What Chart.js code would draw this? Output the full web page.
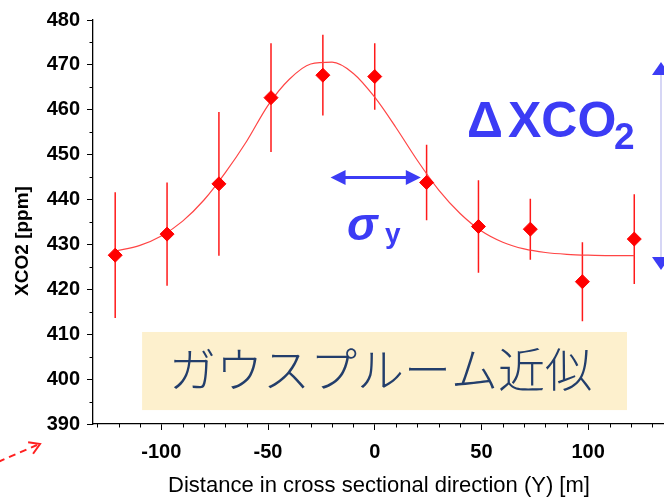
<!DOCTYPE html>
<html>
<head>
<meta charset="utf-8">
<style>
  html, body { margin: 0; padding: 0; background: #fff; overflow: hidden; width: 664px; height: 497px; }
  canvas { display: block; }
</style>
<script src="https://cdn.jsdelivr.net/npm/chart.js@4/dist/chart.umd.min.js"></script>
</head>
<body>
<canvas id="c" width="673" height="497"></canvas>
<script>
// Cross-section samples: distance from plume axis (m), XCO2 (ppm), 1-sigma spread (ppm)
const distance = [-121.6, -97.3, -73.0, -48.6, -24.3, 0.0, 24.3, 48.6, 72.9, 97.3, 121.6];
const xco2     = [427.6, 432.3, 443.5, 462.7, 467.7, 467.4, 443.8, 434.0, 433.4, 421.7, 431.2];
const spread   = [14.0, 11.5, 16.0, 12.1, 9.0, 7.4, 8.4, 10.3, 6.8, 8.8, 10.0];

// Fitted Gaussian plume profile
const fitX = [-121.6, -110, -100, -90, -80, -70, -60, -50, -40, -30, -20, -10, 0, 10, 20, 30, 40, 50, 60, 70, 80, 90, 100, 110, 121.6];
const fitY = [428.5, 429.8, 431.9, 435.2, 439.9, 446.0, 453.0, 461.0, 466.8, 470.2, 470.6, 468.1, 462.8, 456.0, 448.7, 442.1, 436.9, 433.0, 430.5, 429.0, 428.2, 427.8, 427.6, 427.5, 427.5];

// Axis ticks
const xTicks = [-100, -50, 0, 50, 100];
const yTicks = [390, 400, 410, 420, 430, 440, 450, 460, 470, 480];

const BLUE = '#3c3cf5';
const RED = '#ff0000';
const SANS = '"Liberation Sans", Arial, sans-serif';

function fillHead(ctx, tipX, tipY, dx, dy, len, half) {
  const bx = tipX - dx * len, by = tipY - dy * len;
  ctx.beginPath();
  ctx.moveTo(tipX, tipY);
  ctx.lineTo(bx - dy * half, by + dx * half);
  ctx.lineTo(bx + dy * half, by - dx * half);
  ctx.closePath();
  ctx.fill();
}

// Caption box and error bars beneath the data
const underlay = {
  id: 'underlay',
  beforeDatasetsDraw(chart) {
    const { ctx, scales: { x, y } } = chart;
    ctx.save();
    const bx0 = x.getPixelForValue(-109), bx1 = x.getPixelForValue(118.2);
    const by0 = y.getPixelForValue(410.5), by1 = y.getPixelForValue(393.1);
    ctx.fillStyle = '#fdf0cd';
    ctx.fillRect(bx0, by0, bx1 - bx0, by1 - by0);
    ctx.fillStyle = '#233e6b';
    ctx.font = '300 47px "Noto Sans CJK JP"';
    ctx.textAlign = 'center';
    ctx.textBaseline = 'middle';
    ctx.fillText('ガウスプルーム近似', x.getPixelForValue(2.7), y.getPixelForValue(402.3));

    ctx.strokeStyle = '#ff1a1a';
    ctx.lineWidth = 1.5;
    ctx.beginPath();
    distance.forEach((d, i) => {
      const px = x.getPixelForValue(d);
      ctx.moveTo(px, y.getPixelForValue(xco2[i] + spread[i]));
      ctx.lineTo(px, y.getPixelForValue(xco2[i] - spread[i]));
    });
    ctx.stroke();
    ctx.restore();
  }
};

// Minor ticks, axis title and annotations on top
const overlay = {
  id: 'overlay',
  afterDraw(chart) {
    const { ctx, scales: { x, y }, chartArea: ca } = chart;
    ctx.save();
    ctx.strokeStyle = '#000';
    ctx.lineWidth = 1;
    ctx.beginPath();
    for (let v = -130; v <= 130; v += 10) {
      if (v % 50 === 0) continue;
      const px = Math.round(x.getPixelForValue(v)) + 0.5;
      ctx.moveTo(px, ca.bottom);
      ctx.lineTo(px, ca.bottom + 3.5);
    }
    for (let v = 395; v < 480; v += 10) {
      const py = Math.round(y.getPixelForValue(v)) + 0.5;
      ctx.moveTo(ca.left - 3.5, py);
      ctx.lineTo(ca.left, py);
    }
    ctx.stroke();

    // y axis title
    ctx.save();
    ctx.translate(23, 241);
    ctx.rotate(-Math.PI / 2);
    ctx.fillStyle = '#000';
    ctx.font = 'bold 19px ' + SANS;
    ctx.textAlign = 'center';
    ctx.textBaseline = 'middle';
    ctx.fillText('XCO2 [ppm]', 0, 0);
    ctx.restore();

    // plume width arrow
    const sy = y.getPixelForValue(444.9);
    const sx0 = x.getPixelForValue(-20.7), sx1 = x.getPixelForValue(21.6);
    ctx.strokeStyle = BLUE;
    ctx.fillStyle = BLUE;
    ctx.lineWidth = 3;
    ctx.beginPath();
    ctx.moveTo(sx0 + 10, sy);
    ctx.lineTo(sx1 - 10, sy);
    ctx.stroke();
    fillHead(ctx, sx0, sy, -1, 0, 15, 7.5);
    fillHead(ctx, sx1, sy, 1, 0, 15, 7.5);

    // enhancement arrow
    const vx = 661;
    ctx.strokeStyle = '#c9c9f2';
    ctx.lineWidth = 1.5;
    ctx.beginPath();
    ctx.moveTo(vx, 72);
    ctx.lineTo(vx, 260);
    ctx.stroke();
    fillHead(ctx, vx, 62, 0, -1, 13, 9);
    fillHead(ctx, vx, 270, 0, 1, 13, 9);

    // labels
    ctx.textAlign = 'left';
    ctx.textBaseline = 'alphabetic';
    ctx.font = 'bold 50px ' + SANS;
    ctx.fillText('Δ', 467, 137);
    ctx.fillText('XCO', 508, 137);
    ctx.font = 'bold 37px ' + SANS;
    ctx.fillText('2', 614, 149);
    ctx.font = 'bold italic 46px ' + SANS;
    ctx.fillText('σ', 347, 240);
    ctx.font = 'bold 28px ' + SANS;
    ctx.fillText('y', 385, 243);

    // dashed pointer at the lower left
    ctx.strokeStyle = '#ff2020';
    ctx.lineWidth = 2;
    ctx.setLineDash([7, 5]);
    ctx.beginPath();
    ctx.moveTo(-2, 462);
    ctx.lineTo(37, 445);
    ctx.stroke();
    ctx.setLineDash([]);
    const tx = 40, ty = 444;
    const ang = Math.atan2(444 - 462, 40 - (-2));
    ctx.beginPath();
    ctx.moveTo(tx - 12 * Math.cos(ang - 0.55), ty - 12 * Math.sin(ang - 0.55));
    ctx.lineTo(tx, ty);
    ctx.lineTo(tx - 12 * Math.cos(ang + 0.55), ty - 12 * Math.sin(ang + 0.55));
    ctx.stroke();
    ctx.restore();
  }
};

const tickFont = { family: SANS, size: 20, weight: 'bold' };

new Chart(document.getElementById('c'), {
  type: 'scatter',
  data: {
    datasets: [
      {
        type: 'line',
        data: fitX.map((v, i) => ({ x: v, y: fitY[i] })),
        borderColor: '#ff4545',
        borderWidth: 1.2,
        pointRadius: 0,
        cubicInterpolationMode: 'monotone',
        fill: false,
        order: 2
      },
      {
        data: distance.map((v, i) => ({ x: v, y: xco2[i] })),
        pointStyle: 'rectRot',
        pointRadius: 7,
        pointBackgroundColor: RED,
        pointBorderColor: RED,
        pointBorderWidth: 1,
        order: 1
      }
    ]
  },
  options: {
    responsive: false,
    animation: false,
    events: [],
    layout: { padding: { top: 20, right: 0, left: 0, bottom: 0 } },
    plugins: { legend: { display: false }, tooltip: { enabled: false } },
    scales: {
      x: {
        type: 'linear',
        min: -132,
        max: 136,
        afterBuildTicks(scale) { scale.ticks = xTicks.map(v => ({ value: v })); },
        afterFit(scale) { scale.height = 73; },
        grid: { drawOnChartArea: false, drawTicks: true, tickLength: 6, color: '#000', tickWidth: 1 },
        border: { display: true, color: '#000', width: 1.3 },
        ticks: { font: tickFont, color: '#000', padding: 10, maxRotation: 0 },
        title: {
          display: true,
          text: 'Distance in cross sectional direction (Y) [m]',
          color: '#000',
          font: { family: SANS, size: 22, lineHeight: 1.0 },
          padding: { top: 0, bottom: 0 }
        }
      },
      y: {
        type: 'linear',
        min: 390,
        max: 480,
        afterBuildTicks(scale) { scale.ticks = yTicks.map(v => ({ value: v })); },
        afterFit(scale) { scale.width = 93; },
        grid: { drawOnChartArea: false, drawTicks: true, tickLength: 6, color: '#000', tickWidth: 1 },
        border: { display: true, color: '#000', width: 1.3 },
        ticks: { font: tickFont, color: '#000', padding: 7 }
      }
    }
  },
  plugins: [underlay, overlay]
});
</script>
</body>
</html>
